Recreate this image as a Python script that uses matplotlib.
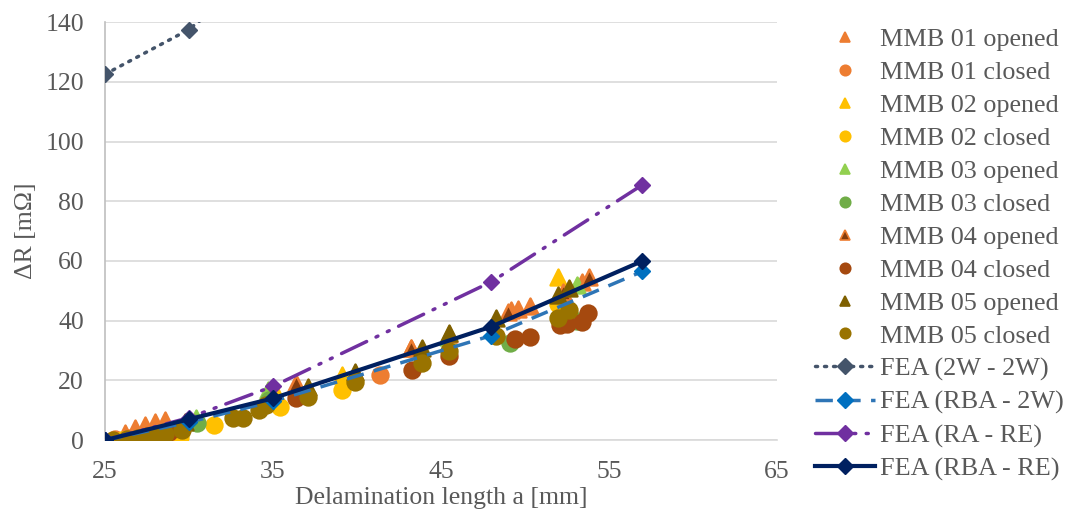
import matplotlib
matplotlib.use("Agg")
import matplotlib.pyplot as plt
from matplotlib.lines import Line2D

plt.rcParams['font.family'] = ['Liberation Serif', 'DejaVu Serif']

# ---- data ----
mmb01_open_x = [26.2, 26.8, 27.4, 28.0, 28.6, 43.2, 49.2, 49.6, 50.3, 53.4]
mmb01_open_y = [2.3, 4.0, 5.0, 6.0, 6.7, 31.0, 43.5, 44.0, 45.0, 53.0]
mmb01_closed_x = [25.6, 26.4, 27.3, 28.2, 29.3, 41.4]
mmb01_closed_y = [0.3, 0.8, 1.5, 2.5, 3.5, 21.8]
mmb02_open_x = [35.1, 39.1, 52.0]
mmb02_open_y = [16.5, 21.8, 54.6]
mmb02_closed_x = [26.0, 29.5, 31.5, 35.4, 39.1, 52.0]
mmb02_closed_y = [0.0, 1.0, 5.0, 11.0, 16.7, 45.5]
mmb03_open_x = [30.4, 34.7, 45.4, 53.1]
mmb03_open_y = [7.5, 16.7, 34.5, 52.0]
mmb03_closed_x = [30.5, 34.8, 49.1, 53.1]
mmb03_closed_y = [5.7, 13.5, 32.5, 40.0]
mmb04_open_x = [36.4, 43.2, 45.5, 49.0, 52.3, 53.8]
mmb04_open_y = [19.0, 30.8, 35.5, 43.0, 49.5, 54.6]
mmb04_closed_x = [27.5, 28.8, 36.4, 43.3, 45.5, 49.4, 50.3, 52.1, 52.5, 53.4, 53.75]
mmb04_closed_y = [1.5, 2.8, 14.0, 23.4, 28.2, 34.0, 34.5, 38.5, 39.0, 39.5, 42.5]
mmb05_open_x = [29.8, 37.1, 39.9, 43.9, 45.5, 48.3, 52.0, 52.6]
mmb05_open_y = [6.0, 17.7, 22.8, 30.8, 36.0, 41.0, 48.5, 51.0]
mmb05_closed_x = [25.5, 26.3, 27.0, 27.8, 28.6, 29.6, 32.6, 33.2, 34.2, 34.6,
                  37.1, 39.9, 43.9, 45.5, 48.3, 52.0, 52.6]
mmb05_closed_y = [0.0, 0.5, 0.8, 1.5, 2.0, 3.3, 7.4, 7.5, 10.0, 11.7,
                  14.4, 19.4, 26.0, 30.0, 35.0, 41.0, 43.5]

fea_x = [25, 30, 35, 48, 57]
fea_2w_2w = [122.5, 137.5, 160.0, 230.0, 290.0]
fea_rba_2w = [0.0, 6.0, 13.0, 35.0, 56.5]
fea_ra_re = [0.0, 7.5, 18.0, 53.0, 85.5]
fea_rba_re = [0.0, 7.0, 14.0, 38.0, 60.0]

xticks = [25, 35, 45, 55, 65]
yticks = [0, 20, 40, 60, 80, 100, 120, 140]

# ---- figure ----
fig = plt.figure(figsize=(10.7, 5.13), dpi=100)
ax = fig.add_axes([0.098, 0.142, 0.628, 0.815])

S = 130
scat = [
    (mmb01_open_x, mmb01_open_y, '^', '#ED7D31', '#ED7D31', 'MMB 01 opened'),
    (mmb01_closed_x, mmb01_closed_y, 'o', '#ED7D31', '#ED7D31', 'MMB 01 closed'),
    (mmb02_open_x, mmb02_open_y, '^', '#FFC000', '#FFC000', 'MMB 02 opened'),
    (mmb02_closed_x, mmb02_closed_y, 'o', '#FFC000', '#FFC000', 'MMB 02 closed'),
    (mmb03_open_x, mmb03_open_y, '^', '#92D050', '#92D050', 'MMB 03 opened'),
    (mmb03_closed_x, mmb03_closed_y, 'o', '#70AD47', '#70AD47', 'MMB 03 closed'),
    (mmb04_open_x, mmb04_open_y, '^', '#843C0C', '#ED7D31', 'MMB 04 opened'),
    (mmb04_closed_x, mmb04_closed_y, 'o', '#A5490F', '#A5490F', 'MMB 04 closed'),
    (mmb05_open_x, mmb05_open_y, '^', '#7F6000', '#7F6000', 'MMB 05 opened'),
    (mmb05_closed_x, mmb05_closed_y, 'o', '#997300', '#997300', 'MMB 05 closed'),
]
handles = []
for xs, ys, m, fc, ec, lab in scat:
    ax.scatter(xs, ys, s=S, marker=m, facecolor=fc, edgecolor=ec,
               linewidths=1.8, zorder=3, clip_on=True)
    handles.append(Line2D([], [], linestyle='none', marker=m, markersize=7.5,
                          markerfacecolor=fc, markeredgecolor=ec,
                          markeredgewidth=1.2, label=lab))

l1, = ax.plot(fea_x, fea_2w_2w, color='#44546A', lw=2.5, linestyle=(0, (0.6, 2.0)),
              dash_capstyle='round', marker='D', markersize=8, zorder=4,
              label='FEA (2W - 2W)')
l2, = ax.plot(fea_x, fea_rba_2w, color='#2E75B6', lw=2.5, linestyle=(0, (5, 3)),
              marker='D', markersize=8, markerfacecolor='#0070C0',
              markeredgecolor='#0070C0', zorder=4, label='FEA (RBA - 2W)')
l3, = ax.plot(fea_x, fea_ra_re, color='#7030A0', lw=2.5,
              linestyle=(0, (8, 3, 0.6, 3, 0.6, 3)), dash_capstyle='round',
              marker='D', markersize=8, zorder=4, label='FEA (RA - RE)')
l4, = ax.plot(fea_x, fea_rba_re, color='#002060', lw=3, linestyle='-',
              marker='D', markersize=8, zorder=5, label='FEA (RBA - RE)')
handles += [l1, l2, l3, l4]

ax.set_xlim(25, 65)
ax.set_ylim(0, 140)
ax.set_xticks(xticks)
ax.set_yticks(yticks)
ax.grid(axis='y', color='#D9D9D9', lw=1.2)
ax.set_axisbelow(True)
for sp in ['top', 'right']:
    ax.spines[sp].set_visible(False)
ax.spines['left'].set_color('#BFBFBF')
ax.spines['bottom'].set_color('#D9D9D9')
ax.spines['left'].set_linewidth(1.2)
ax.spines['bottom'].set_linewidth(1.2)
ax.tick_params(axis='both', length=0, labelsize=18.5, labelcolor='#595959')
ax.tick_params(axis='y', pad=15)
ax.tick_params(axis='x', pad=15)
ax.set_xlabel('Delamination length a [mm]', fontsize=18.5, color='#595959', labelpad=3)
ax.set_ylabel('ΔR [mΩ]', fontsize=18.5, color='#595959', labelpad=6)

leg = fig.legend(handles=handles, loc='upper left', bbox_to_anchor=(0.752, 0.966),
                 frameon=False, fontsize=18.8, labelcolor='#595959',
                 handlelength=2.3, handletextpad=0.2, labelspacing=0.37,
                 borderaxespad=0)

fig.savefig('out.png', dpi=100)
